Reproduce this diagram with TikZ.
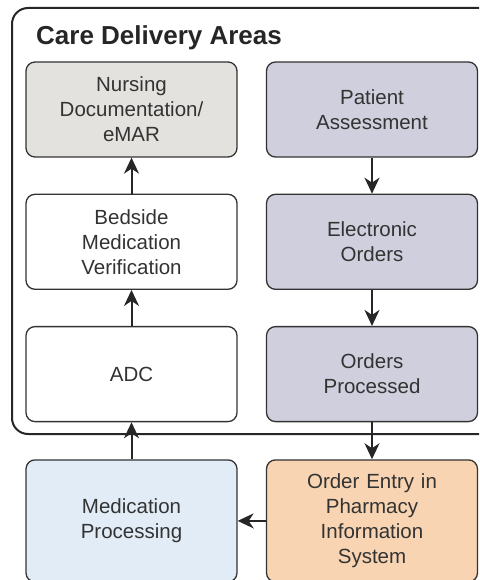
\documentclass[tikz,border=0pt]{standalone}
\usepackage{fontspec}
\setmainfont{Liberation Sans}
\usetikzlibrary{arrows.meta,positioning}

\definecolor{docgray}{HTML}{E3E2DE}
\definecolor{ordlilac}{HTML}{CFCFDE}
\definecolor{medblue}{HTML}{E2ECF7}
\definecolor{pharmpeach}{HTML}{F8D4B3}
\definecolor{inkgray}{HTML}{333333}

\tikzset{
  box/.style={rectangle, draw=inkgray, line width=1.3pt, rounded corners=9pt,
    minimum width=211pt, minimum height=95pt, text width=190pt, align=center,
    font=\fontsize{20.5}{25}\selectfont, text=inkgray},
  flow/.style={-{Stealth[length=16pt,width=15pt,inset=5pt]}, line width=2pt, draw=black!85},
}

\begin{document}
\begin{tikzpicture}[x=1pt, y=1pt, node distance=36pt]
  \clip (0,0) rectangle (479,-580);

  % care delivery frame, open on the right
  \draw[line width=2pt, draw=black!85, rounded corners=16pt]
    (510,-8) -- (12,-8) -- (12,-434) -- (510,-434);
  \node[anchor=base west, inner sep=0pt, font=\bfseries\fontsize{26}{30}\selectfont, text=black!85]
    (title) at (36,-45) {Care Delivery Areas};

  % right column: ordering side
  \node (assess) [box, fill=ordlilac] at (372,-109.5) {Patient\\Assessment};
  \node (eorders) [box, fill=ordlilac, below=of assess] {Electronic\\Orders};
  \node (processed) [box, fill=ordlilac, below=of eorders] {Orders\\Processed};
  \node (pharmacy) [box, fill=pharmpeach, minimum height=122pt, below=37pt of processed]
    {Order Entry in\\Pharmacy\\Information\\System};

  % left column: administration side
  \node (nursing) [box, fill=docgray] at (131.5,-109.5) {Nursing\\Documentation/\\eMAR};
  \node (bedside) [box, fill=white, below=of nursing] {Bedside\\Medication\\Verification};
  \node (adc) [box, fill=white, below=of bedside] {ADC};
  \node (medproc) [box, fill=medblue, minimum height=122pt, below=37pt of adc]
    {Medication\\Processing};

  \draw [flow] (assess) -- (eorders);
  \draw [flow] (eorders) -- (processed);
  \draw [flow] (processed) -- (pharmacy);
  \draw [flow] (pharmacy) -- (medproc);
  \draw [flow] (medproc) -- (adc);
  \draw [flow] (adc) -- (bedside);
  \draw [flow] (bedside) -- (nursing);
\end{tikzpicture}
\end{document}
